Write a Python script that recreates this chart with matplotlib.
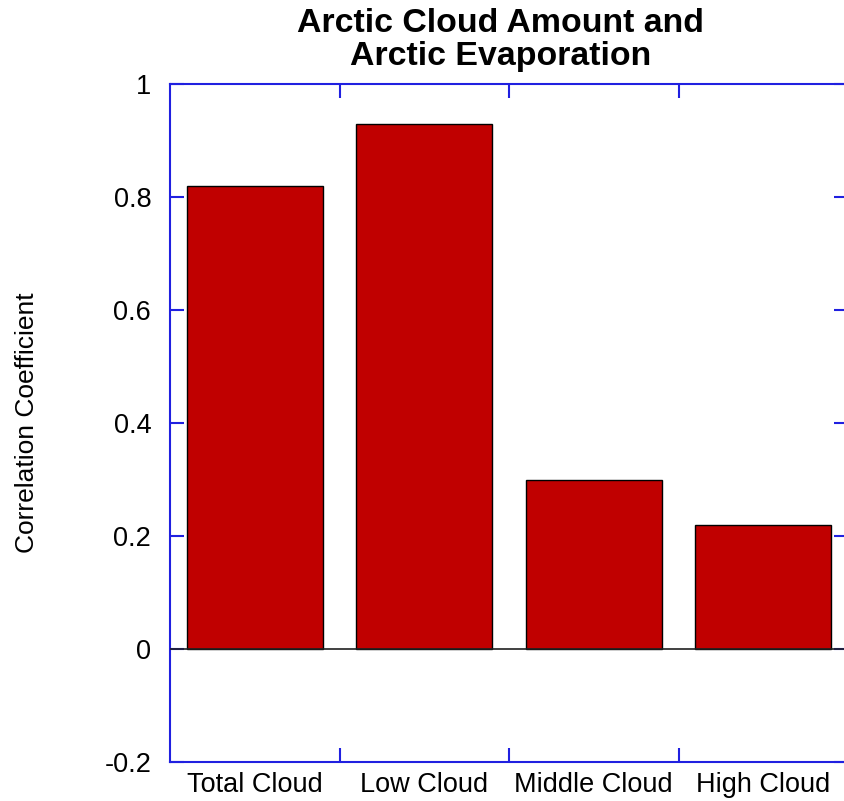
import matplotlib
matplotlib.use("Agg")
import matplotlib.pyplot as plt
import numpy as np

plt.rcParams['font.family'] = ['Liberation Sans', 'DejaVu Sans']

categories = ["Total Cloud", "Low Cloud", "Middle Cloud", "High Cloud"]
correlation = [0.82, 0.93, 0.30, 0.22]
y_ticks = [-0.2, 0, 0.2, 0.4, 0.6, 0.8, 1]
y_tick_labels = ["-0.2", "0", "0.2", "0.4", "0.6", "0.8", "1"]

fig = plt.figure(figsize=(8.44, 8.01), dpi=100)
ax = fig.add_axes([170 / 844, 1 - 762 / 801, 678 / 844, (762 - 84) / 801])

x = np.arange(len(categories))
ax.bar(x, correlation, width=0.8, color="#c00000", edgecolor="black",
       linewidth=1.0, zorder=2)
ax.axhline(0, color="#202020", linewidth=1.2, zorder=3)

ax.set_xlim(-0.5, 3.5)
ax.set_ylim(-0.2, 1.0)

blue = "#2020e0"
for s in ax.spines.values():
    s.set_color(blue)
    s.set_linewidth(1.5)

# separator ticks between categories, labels centred on bars
ax.set_xticks(x + 0.5, minor=False)
ax.set_xticks(x, minor=True)
ax.set_xticklabels([""] * len(x))
ax.set_xticklabels(categories, minor=True)
ax.tick_params(axis="x", which="major", direction="in", length=10, width=1.5,
               color=blue, top=True, bottom=True)
ax.tick_params(axis="x", which="minor", length=0, pad=7, labelsize=19.5)

ax.set_yticks(y_ticks)
ax.set_yticklabels(y_tick_labels)
ax.tick_params(axis="y", direction="in", length=10, width=1.5, color=blue,
               left=True, right=True, pad=13.5, labelsize=19.5)

ax.set_ylabel("Correlation Coefficient", fontsize=19, labelpad=47)
ax.set_title("Arctic Cloud Amount and\nArctic Evaporation", fontsize=24.4,
             fontweight="bold", pad=14, linespacing=1.08, x=0.487)

fig.savefig("out.png", dpi=100)
